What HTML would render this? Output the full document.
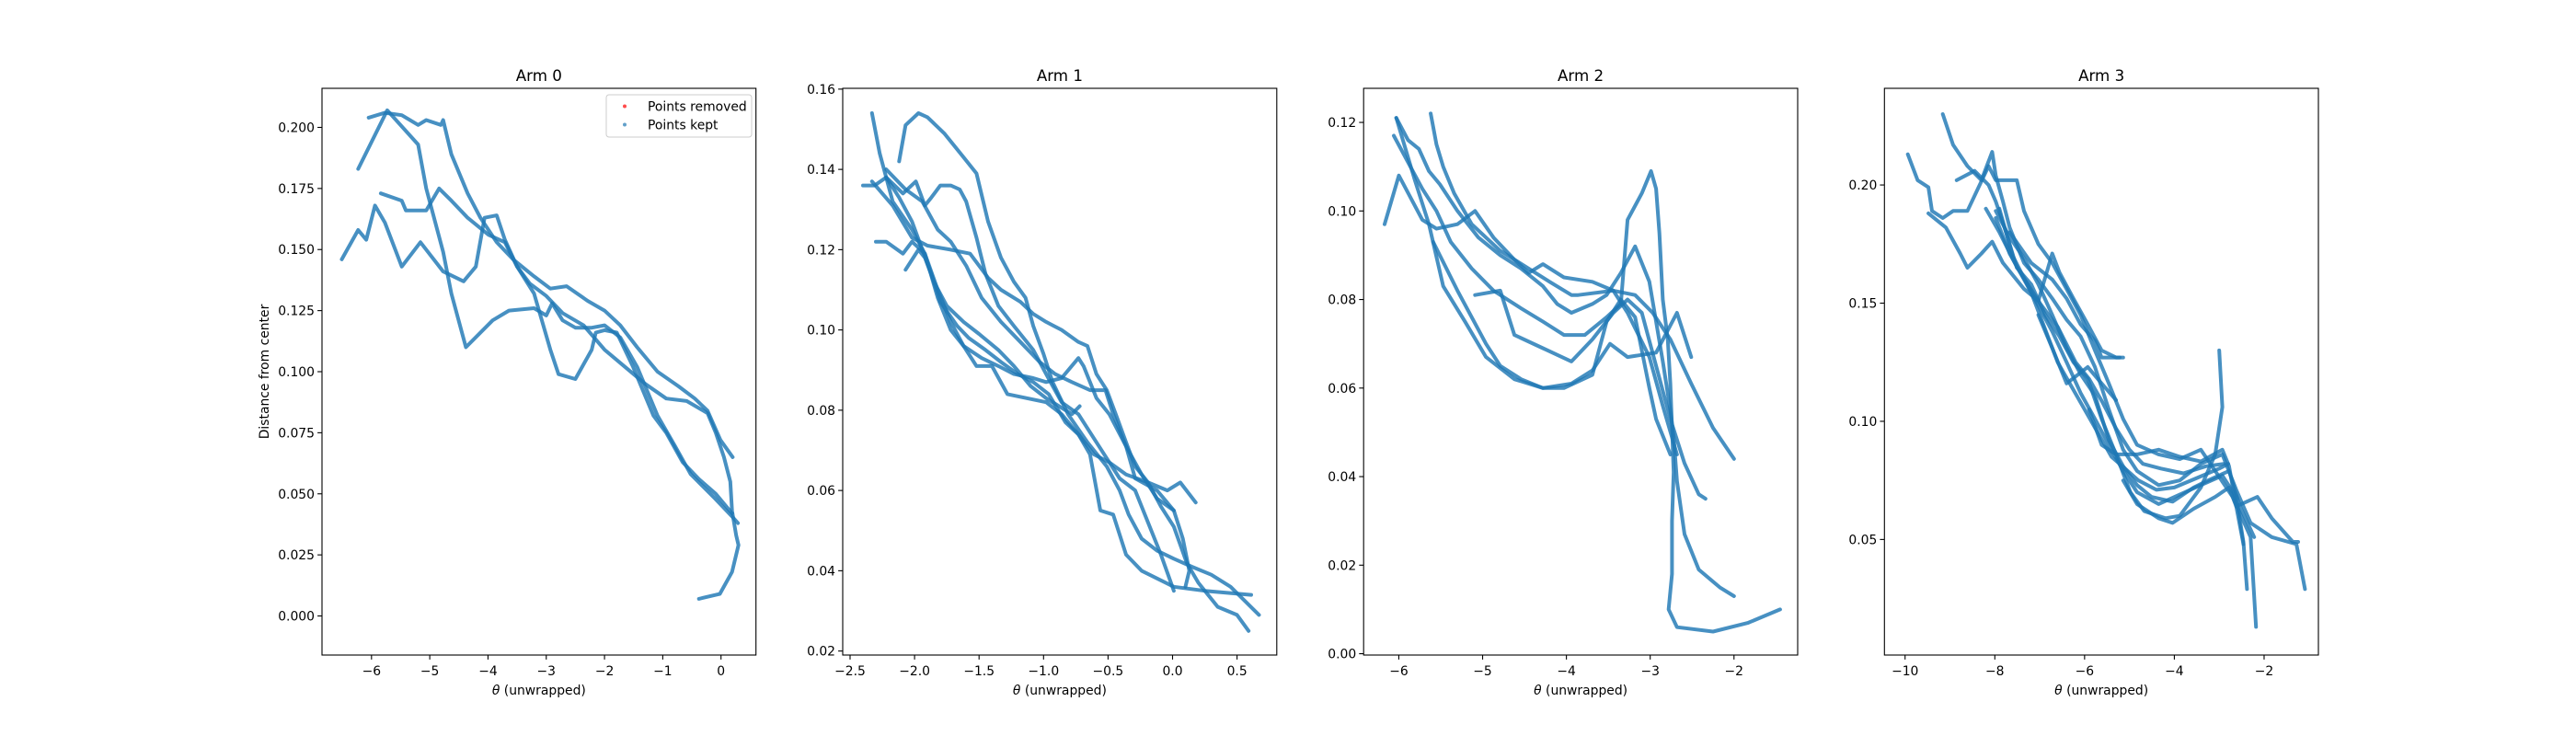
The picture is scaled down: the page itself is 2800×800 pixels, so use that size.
<!DOCTYPE html>
<html><head><meta charset="utf-8">
<style>
html,body{margin:0;padding:0;background:#fff;}
svg{display:block;font-family:"DejaVu Sans","Liberation Sans",sans-serif;}
</style></head>
<body>
<svg id="fig" width="2800" height="800" xmlns="http://www.w3.org/2000/svg">
<rect width="2800" height="800" fill="#fff"/>
</svg>
<script>
// ---------- Arm 0 data ----------
const arm0XTicks = [-6,-5,-4,-3,-2,-1,0];
const arm0YTicks = [0,0.025,0.05,0.075,0.1,0.125,0.15,0.175,0.2];
const arm0Series = [
 [[-6.23,0.183],[-5.73,0.207],[-5.2,0.193],[-5.06,0.175],[-4.77,0.149],[-4.63,0.132],[-4.38,0.110],[-3.92,0.121],[-3.64,0.125],[-3.21,0.126],[-3,0.123],[-2.9,0.128],[-2.72,0.121],[-2.5,0.118],[-2.22,0.118],[-2,0.119],[-1.73,0.114],[-1.44,0.102],[-1.09,0.082],[-0.8,0.070],[-0.52,0.058],[-0.1,0.048],[0.18,0.041],[0.29,0.038]],
 [[-6.05,0.204],[-5.77,0.206],[-5.48,0.205],[-5.2,0.201],[-5.06,0.203],[-4.81,0.201],[-4.77,0.203],[-4.63,0.189],[-4.35,0.173],[-4.13,0.163],[-3.85,0.153],[-3.57,0.146],[-3.21,0.139],[-2.93,0.134],[-2.65,0.135],[-2.29,0.129],[-2,0.125],[-1.73,0.119],[-1.44,0.110],[-1.09,0.100],[-0.73,0.094],[-0.45,0.089],[-0.23,0.084],[-0.01,0.072],[0.2,0.065]],
 [[-5.84,0.173],[-5.48,0.170],[-5.41,0.166],[-5.06,0.166],[-4.84,0.175],[-4.63,0.170],[-4.35,0.163],[-3.99,0.156],[-3.71,0.153],[-3.5,0.143],[-3.28,0.136],[-3,0.131],[-2.72,0.124],[-2.36,0.119],[-2,0.109],[-1.65,0.102],[-1.3,0.095],[-0.94,0.089],[-0.59,0.088],[-0.23,0.083],[-0.09,0.075],[0.05,0.065],[0.16,0.055],[0.19,0.043],[0.26,0.033],[0.3,0.029],[0.19,0.018],[-0.02,0.009],[-0.38,0.007]],
 [[-6.51,0.146],[-6.23,0.158],[-6.09,0.154],[-5.94,0.168],[-5.77,0.161],[-5.48,0.143],[-5.16,0.153],[-4.77,0.141],[-4.42,0.137],[-4.21,0.143],[-4.06,0.163],[-3.85,0.164],[-3.71,0.154],[-3.5,0.143],[-3.21,0.132],[-2.93,0.109],[-2.79,0.099],[-2.5,0.097],[-2.22,0.109],[-2.15,0.116],[-2,0.117],[-1.79,0.116],[-1.51,0.102],[-1.16,0.082],[-0.94,0.075],[-0.66,0.063],[-0.38,0.056],[-0.09,0.050],[0.19,0.042]]
];
// ---------- Arm 1 data ----------
const arm1XTicks = [-2.5,-2.0,-1.5,-1.0,-0.5,0.0,0.5];
const arm1YTicks = [0.02,0.04,0.06,0.08,0.10,0.12,0.14,0.16];
const arm1Series = [
 [[-2.33,0.154],[-2.27,0.144],[-2.17,0.132],[-2.02,0.125],[-1.92,0.119],[-1.82,0.110],[-1.72,0.102],[-1.62,0.096],[-1.52,0.091],[-1.4,0.091],[-1.28,0.084],[-1.13,0.083],[-0.98,0.082],[-0.86,0.079],[-0.73,0.074],[-0.64,0.069],[-0.56,0.055],[-0.46,0.054],[-0.36,0.044],[-0.24,0.040],[0.01,0.036],[0.25,0.035],[0.61,0.034]],
 [[-2.12,0.142],[-2.07,0.151],[-1.97,0.154],[-1.9,0.153],[-1.77,0.149],[-1.62,0.143],[-1.52,0.139],[-1.43,0.127],[-1.33,0.118],[-1.23,0.112],[-1.14,0.108],[-1.08,0.101],[-1,0.094],[-0.93,0.087],[-0.81,0.079],[-0.66,0.072],[-0.51,0.066],[-0.41,0.060],[-0.34,0.054],[-0.24,0.048],[-0.12,0.045],[0.01,0.043],[0.15,0.041],[0.3,0.039],[0.45,0.036],[0.67,0.029]],
 [[-2.4,0.136],[-2.31,0.136],[-2.22,0.138],[-2.09,0.134],[-1.99,0.137],[-1.92,0.131],[-1.87,0.133],[-1.8,0.136],[-1.72,0.136],[-1.65,0.135],[-1.6,0.132],[-1.52,0.123],[-1.45,0.114],[-1.35,0.106],[-1.23,0.101],[-1.08,0.095],[-0.98,0.089],[-0.86,0.082],[-0.73,0.079],[-0.61,0.073],[-0.49,0.067],[-0.36,0.064],[-0.19,0.062],[-0.04,0.060],[0.06,0.062],[0.18,0.057]],
 [[-2.3,0.122],[-2.22,0.122],[-2.09,0.119],[-2.02,0.122],[-1.92,0.119],[-1.82,0.108],[-1.72,0.100],[-1.62,0.096],[-1.48,0.093],[-1.35,0.091],[-1.23,0.089],[-1.08,0.088],[-0.98,0.087],[-0.86,0.088],[-0.73,0.093],[-0.69,0.091],[-0.59,0.083],[-0.49,0.079],[-0.36,0.071],[-0.24,0.064],[-0.12,0.058],[0.01,0.055],[0.08,0.048],[0.13,0.040],[0.1,0.036]],
 [[-2.33,0.137],[-2.17,0.131],[-2.02,0.123],[-1.9,0.121],[-1.72,0.120],[-1.57,0.119],[-1.43,0.113],[-1.33,0.110],[-1.18,0.107],[-1.08,0.104],[-0.98,0.102],[-0.86,0.100],[-0.73,0.097],[-0.66,0.096],[-0.59,0.089],[-0.51,0.085],[-0.44,0.079],[-0.36,0.072],[-0.29,0.066],[-0.19,0.062],[-0.09,0.056],[0.01,0.051],[0.11,0.042],[0.2,0.037],[0.35,0.031],[0.5,0.029],[0.59,0.025]],
 [[-2.22,0.140],[-2.07,0.135],[-1.94,0.132],[-1.82,0.125],[-1.72,0.122],[-1.6,0.116],[-1.48,0.108],[-1.33,0.102],[-1.18,0.097],[-1.03,0.092],[-0.91,0.089],[-0.78,0.087],[-0.64,0.085],[-0.52,0.085],[-0.46,0.079],[-0.36,0.071],[-0.29,0.063],[-0.12,0.060],[0.01,0.055]],
 [[-2.07,0.115],[-1.97,0.120],[-1.92,0.118],[-1.85,0.112],[-1.75,0.106],[-1.62,0.102],[-1.5,0.099],[-1.35,0.095],[-1.23,0.091],[-1.1,0.086],[-0.98,0.083],[-0.88,0.081],[-0.78,0.079],[-0.72,0.081]],
 [[-2.22,0.138],[-2.12,0.133],[-2.02,0.127],[-1.94,0.120],[-1.87,0.114],[-1.8,0.107],[-1.67,0.101],[-1.58,0.098],[-1.45,0.095],[-1.33,0.092],[-1.2,0.089],[-1.08,0.087],[-0.96,0.084],[-0.83,0.077],[-0.73,0.074],[-0.61,0.069],[-0.49,0.067],[-0.41,0.063],[-0.29,0.060],[-0.19,0.052],[-0.09,0.044],[0.01,0.035]]
];
// ---------- Arm 2 data ----------
const arm2XTicks = [-6,-5,-4,-3,-2];
const arm2YTicks = [0,0.02,0.04,0.06,0.08,0.10,0.12];
const arm2Series = [
 [[-6.17,0.097],[-6,0.108],[-5.72,0.098],[-5.55,0.096],[-5.3,0.097],[-5.09,0.100],[-4.87,0.094],[-4.62,0.089],[-4.45,0.086],[-4.28,0.088],[-4.03,0.085],[-3.69,0.084],[-3.44,0.082],[-3.18,0.081],[-2.97,0.077],[-2.76,0.071],[-2.51,0.061],[-2.25,0.051],[-2,0.044]],
 [[-6.03,0.121],[-5.89,0.116],[-5.76,0.114],[-5.64,0.109],[-5.51,0.106],[-5.3,0.100],[-5.05,0.094],[-4.79,0.090],[-4.54,0.087],[-4.28,0.083],[-4.11,0.079],[-3.94,0.077],[-3.69,0.079],[-3.52,0.081],[-3.35,0.086],[-3.18,0.092],[-3.01,0.084],[-2.93,0.075],[-2.85,0.066],[-2.76,0.055],[-2.72,0.049],[-2.68,0.039],[-2.59,0.027],[-2.42,0.019],[-2.17,0.015],[-2,0.013]],
 [[-6.06,0.117],[-5.89,0.111],[-5.72,0.105],[-5.55,0.100],[-5.38,0.093],[-5.13,0.087],[-4.87,0.082],[-4.54,0.078],[-4.28,0.075],[-4.03,0.072],[-3.78,0.072],[-3.52,0.076],[-3.35,0.079],[-3.27,0.098],[-3.1,0.104],[-2.99,0.109],[-2.93,0.105],[-2.89,0.095],[-2.85,0.080],[-2.79,0.071],[-2.76,0.061],[-2.72,0.041],[-2.74,0.030],[-2.74,0.018],[-2.78,0.010],[-2.68,0.006],[-2.25,0.005],[-1.83,0.007],[-1.45,0.010]],
 [[-5.62,0.122],[-5.55,0.115],[-5.47,0.110],[-5.34,0.104],[-5.13,0.097],[-4.96,0.094],[-4.79,0.091],[-4.45,0.087],[-4.2,0.084],[-3.94,0.081],[-3.86,0.081],[-3.44,0.082],[-3.27,0.077],[-3.01,0.067],[-2.85,0.056],[-2.68,0.045]],
 [[-5.59,0.093],[-5.3,0.082],[-5.13,0.076],[-4.96,0.070],[-4.79,0.065],[-4.54,0.062],[-4.28,0.060],[-3.94,0.061],[-3.69,0.064],[-3.48,0.070],[-3.27,0.067],[-2.93,0.068],[-2.68,0.077],[-2.51,0.067]],
 [[-6.03,0.121],[-5.81,0.107],[-5.64,0.097],[-5.47,0.083],[-5.21,0.075],[-4.96,0.067],[-4.62,0.062],[-4.28,0.060],[-4.03,0.060],[-3.69,0.063],[-3.52,0.075],[-3.35,0.080],[-3.18,0.076],[-3.01,0.060],[-2.93,0.053],[-2.76,0.045]],
 [[-5.09,0.081],[-4.79,0.082],[-4.62,0.072],[-4.28,0.069],[-3.94,0.066],[-3.69,0.071],[-3.44,0.077],[-3.27,0.080],[-3.1,0.077],[-2.93,0.065],[-2.76,0.053],[-2.59,0.043],[-2.42,0.036],[-2.34,0.035]]
];
// ---------- Arm 3 data ----------
const arm3XTicks = [-10,-8,-6,-4,-2];
const arm3YTicks = [0.05,0.10,0.15,0.20];
const arm3Series = [
 [[-9.94,0.213],[-9.72,0.202],[-9.48,0.199],[-9.4,0.189],[-9.16,0.186],[-8.93,0.189],[-8.61,0.189],[-8.14,0.208],[-7.98,0.202],[-7.51,0.202],[-7.35,0.189],[-7.03,0.175],[-6.72,0.167],[-6.4,0.156],[-6.09,0.145],[-5.77,0.130],[-5.46,0.116],[-5.14,0.101],[-4.83,0.090],[-4.35,0.086],[-3.88,0.084],[-3.41,0.088],[-3.09,0.079],[-2.7,0.068],[-2.3,0.051],[-2.18,0.013]],
 [[-9.16,0.230],[-8.93,0.217],[-8.61,0.208],[-8.3,0.202],[-8.06,0.214],[-7.98,0.204],[-7.82,0.193],[-7.67,0.182],[-7.35,0.167],[-7.03,0.160],[-6.72,0.152],[-6.4,0.143],[-6.09,0.136],[-5.77,0.123],[-5.46,0.105],[-5.14,0.088],[-4.83,0.079],[-4.35,0.073],[-3.88,0.075],[-3.41,0.082],[-2.93,0.086],[-2.62,0.071],[-2.3,0.057],[-1.83,0.051],[-1.28,0.048],[-1.09,0.029]],
 [[-9.48,0.188],[-9.09,0.182],[-8.77,0.171],[-8.61,0.165],[-8.3,0.171],[-8.06,0.176],[-7.82,0.167],[-7.35,0.156],[-7.03,0.151],[-6.72,0.171],[-6.56,0.163],[-6.25,0.152],[-5.93,0.141],[-5.62,0.130],[-5.3,0.127],[-5.14,0.127]],
 [[-8.85,0.202],[-8.45,0.206],[-8.14,0.200],[-7.98,0.193],[-7.82,0.184],[-7.67,0.175],[-7.51,0.165],[-7.19,0.158],[-6.88,0.145],[-6.56,0.136],[-6.25,0.125],[-5.93,0.118],[-5.62,0.101],[-5.3,0.086],[-4.98,0.070],[-4.67,0.062],[-4.2,0.059],[-3.88,0.060],[-3.41,0.072],[-3.09,0.086],[-2.93,0.106],[-3.0,0.130]],
 [[-7.98,0.186],[-7.67,0.171],[-7.35,0.160],[-7.03,0.149],[-6.72,0.138],[-6.4,0.125],[-6.09,0.112],[-5.77,0.101],[-5.46,0.090],[-5.14,0.079],[-4.83,0.070],[-4.35,0.065],[-3.88,0.069],[-3.41,0.073],[-2.93,0.077],[-2.62,0.068],[-2.46,0.049],[-2.38,0.029]],
 [[-7.98,0.189],[-7.67,0.178],[-7.35,0.169],[-7.03,0.158],[-6.72,0.145],[-6.4,0.131],[-6.09,0.120],[-5.77,0.111],[-5.46,0.092],[-5.14,0.081],[-4.83,0.073],[-4.51,0.068],[-4.04,0.066],[-3.57,0.072],[-3.25,0.075],[-2.78,0.079],[-2.54,0.064],[-2.22,0.051]],
 [[-7.67,0.180],[-7.19,0.167],[-6.72,0.160],[-6.4,0.152],[-6.09,0.141],[-5.77,0.134],[-5.62,0.127],[-5.22,0.127]],
 [[-7.03,0.145],[-6.72,0.131],[-6.4,0.116],[-5.93,0.123],[-5.62,0.116],[-5.3,0.109]],
 [[-5.9,0.105],[-5.62,0.090],[-5.3,0.086],[-4.83,0.086],[-4.35,0.088],[-3.88,0.085],[-3.41,0.083],[-2.93,0.088],[-2.78,0.081],[-2.62,0.064],[-2.46,0.048]],
 [[-5.14,0.075],[-4.83,0.065],[-4.35,0.059],[-4.04,0.057],[-3.57,0.063],[-3.09,0.068],[-2.78,0.072],[-2.62,0.064],[-2.15,0.068],[-1.83,0.059],[-1.36,0.049],[-1.24,0.049]],
 [[-7.9,0.190],[-7.6,0.170],[-7.2,0.155],[-6.9,0.140],[-6.6,0.125],[-6.3,0.115],[-6.0,0.105],[-5.7,0.095],[-5.4,0.085],[-5.1,0.080],[-4.8,0.075],[-4.4,0.071],[-4.0,0.072],[-3.5,0.076],[-3.0,0.080],[-2.8,0.082]],
 [[-8.2,0.190],[-7.9,0.180],[-7.5,0.165],[-7.0,0.150],[-6.6,0.140],[-6.2,0.125],[-5.9,0.118],[-5.6,0.108],[-5.3,0.097],[-5.0,0.088],[-4.7,0.082],[-4.3,0.080],[-3.8,0.078],[-3.3,0.081],[-2.9,0.082]]
];

const NS = "http://www.w3.org/2000/svg";
const svg = document.getElementById('fig');
function mk(tag, attrs, parent){
  const e = document.createElementNS(NS, tag);
  for (const k in attrs) e.setAttribute(k, attrs[k]);
  (parent||svg).appendChild(e);
  return e;
}
function fmtMinus(s){ return s.replace('-', '\u2212'); }

const panels = [
 {title:'Arm 0', x0:350, x1:821.7, xmin:-6.85, xmax:0.6, ymin:-0.016, ymax:0.216, xt:arm0XTicks, yt:arm0YTicks, xd:0, yd:3, series:arm0Series},
 {title:'Arm 1', x0:916, x1:1387.8, xmin:-2.557, xmax:0.808, ymin:0.019, ymax:0.1602, xt:arm1XTicks, yt:arm1YTicks, xd:1, yd:2, series:arm1Series},
 {title:'Arm 2', x0:1482.2, x1:1954, xmin:-6.42, xmax:-1.24, ymin:-0.0003, ymax:0.1277, xt:arm2XTicks, yt:arm2YTicks, xd:0, yd:2, series:arm2Series},
 {title:'Arm 3', x0:2048.3, x1:2520, xmin:-10.46, xmax:-0.79, ymin:0.0011, ymax:0.2409, xt:arm3XTicks, yt:arm3YTicks, xd:0, yd:2, series:arm3Series}
];
const Y0 = 96, Y1 = 712;

panels.forEach((p, pi) => {
  const g = mk('g', {});
  
  
  const sx = v => p.x0 + (v - p.xmin) / (p.xmax - p.xmin) * (p.x1 - p.x0);
  const sy = v => Y1 - (v - p.ymin) / (p.ymax - p.ymin) * (Y1 - Y0);

  p.series.forEach((s, si) => {
    const pl = mk('polyline', {points: s.map(d => sx(d[0]).toFixed(1) + ',' + sy(d[1]).toFixed(1)).join(' '),
      fill:'none', stroke:'#1f77b4', 'stroke-width':4, 'stroke-opacity':0.82, 'stroke-linejoin':'round', 'stroke-linecap':'round'}, g);
    
    
  });

  const fr = mk('rect', {x:p.x0, y:Y0, width:p.x1 - p.x0, height:Y1 - Y0, fill:'none', stroke:'#000', 'stroke-width':1.1}, g);
  
  

  p.xt.forEach(v => {
    const x = sx(v);
    mk('line', {x1:x, x2:x, y1:Y1, y2:Y1 + 4.9, stroke:'#000', 'stroke-width':1.1}, g);
    const t = mk('text', {x:x, y:Y1 + 22, 'text-anchor':'middle', 'font-size':13.9, fill:'#000'}, g);
    t.textContent = fmtMinus(v.toFixed(p.xd));
    
    
  });
  p.yt.forEach(v => {
    const y = sy(v);
    mk('line', {x1:p.x0 - 4.9, x2:p.x0, y1:y, y2:y, stroke:'#000', 'stroke-width':1.1}, g);
    const t = mk('text', {x:p.x0 - 8, y:y + 5, 'text-anchor':'end', 'font-size':13.9, fill:'#000'}, g);
    t.textContent = fmtMinus(v.toFixed(p.yd));
    
    
  });
  const tt = mk('text', {x:(p.x0 + p.x1) / 2, y:88, 'text-anchor':'middle', 'font-size':16.7, fill:'#000'}, g);
  tt.textContent = p.title;
  
  
  const xl = mk('text', {x:(p.x0 + p.x1) / 2, y:755, 'text-anchor':'middle', 'font-size':13.9, fill:'#000'}, g);
  xl.innerHTML = '<tspan font-style="italic">θ</tspan> (unwrapped)';
  
  
});

const yl = mk('text', {x:0, y:0, 'text-anchor':'middle', 'font-size':13.9, fill:'#000', transform:'translate(292,404) rotate(-90)'});
yl.textContent = 'Distance from center';



const lg = mk('g', {});


mk('rect', {x:659, y:103, width:158, height:46, rx:3, fill:'#fff', 'fill-opacity':0.8, stroke:'#ccc', 'stroke-width':1}, lg);
mk('circle', {cx:679, cy:115.5, r:2, fill:'#ff0000', 'fill-opacity':0.7}, lg);
mk('circle', {cx:679, cy:135.5, r:2, fill:'#1f77b4', 'fill-opacity':0.7}, lg);
const l1 = mk('text', {x:704, y:120.5, 'font-size':13.9, fill:'#000'}, lg);
l1.textContent = 'Points removed';


const l2 = mk('text', {x:704, y:140.5, 'font-size':13.9, fill:'#000'}, lg);
l2.textContent = 'Points kept';


</script>
</body></html>
